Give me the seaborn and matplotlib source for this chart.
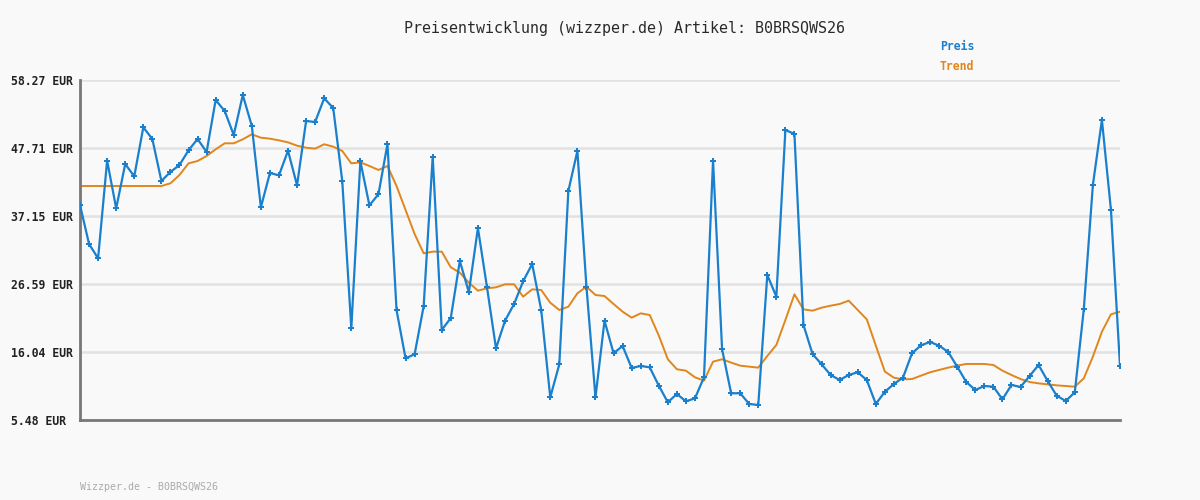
import numpy as np
import pandas as pd
import matplotlib
matplotlib.use("Agg")
import matplotlib.pyplot as plt
import seaborn as sns

# --- DATA ---
preis = [
    38.86, 32.81, 30.58, 45.75, 38.34, 45.23, 43.31, 50.92, 49.11, 42.59,
    43.99, 45.07, 47.35, 49.11, 47.09, 55.16, 53.46, 49.73, 55.94, 51.13,
    38.50, 43.83, 43.47, 47.29, 41.92, 51.90, 51.75, 55.43, 53.92, 42.59,
    19.72, 45.65, 38.82, 40.52, 48.33, 22.56, 15.06, 15.68, 23.14, 46.36,
    19.45, 21.32, 30.17, 25.31, 35.29, 26.13, 16.61, 20.90, 23.49, 27.02,
    29.70, 22.56, 9.00, 14.13, 41.04, 47.25, 26.18, 9.00, 20.90, 15.84,
    16.97, 13.56, 13.87, 13.66, 10.81, 8.23, 9.52, 8.38, 8.85, 12.11,
    45.75, 16.46, 9.63, 9.63, 7.97, 7.81, 28.00, 24.63, 50.51, 49.89,
    20.23, 15.73, 14.13, 12.47, 11.69, 12.47, 12.89, 11.69, 7.97, 9.87,
    11.07, 12.05, 15.84, 17.08, 17.59, 17.02, 16.04, 13.76, 11.38, 10.14,
    10.76, 10.65, 8.69, 10.92, 10.61, 12.31, 14.02, 11.54, 9.25, 8.43,
    9.78, 22.72, 41.97, 52.06, 38.09, 13.87,
]
trend = [
    41.81, 41.81, 41.81, 41.81, 41.81, 41.81, 41.81, 41.81, 41.81, 41.81,
    42.23, 43.52, 45.33, 45.69, 46.47, 47.51, 48.44, 48.44, 49.06, 49.84,
    49.31, 49.16, 48.90, 48.59, 48.07, 47.76, 47.61, 48.29, 47.92, 47.25,
    45.33, 45.49, 44.92, 44.30, 44.92, 41.81, 38.09, 34.36, 31.36, 31.62,
    31.62, 29.19, 28.36, 26.80, 25.56, 25.93, 26.08, 26.55, 26.55, 24.63,
    25.77, 25.66, 23.69, 22.56, 23.07, 25.15, 26.18, 24.89, 24.73, 23.49,
    22.30, 21.37, 22.04, 21.78, 18.60, 14.91, 13.36, 13.14, 12.11, 11.59,
    14.54, 14.91, 14.39, 13.92, 13.76, 13.61, 15.42, 17.13, 21.01, 24.99,
    22.66, 22.45, 22.92, 23.23, 23.49, 24.01, 22.56, 21.11, 17.02, 12.99,
    12.05, 11.79, 11.84, 12.37, 12.89, 13.25, 13.61, 13.92, 14.18, 14.18,
    14.18, 14.02, 13.14, 12.47, 11.84, 11.38, 11.17, 11.01, 10.86, 10.76,
    10.65, 11.95, 15.31, 19.19, 21.89, 22.30,
]
y_ticks = [5.48, 16.04, 26.59, 37.15, 47.71, 58.27]
y_labels = [f"{v:.2f} EUR" for v in y_ticks]
title = "Preisentwicklung (wizzper.de) Artikel: B0BRSQWS26"
footer = "Wizzper.de - B0BRSQWS26"

BLUE = "#1a7fcc"
ORANGE = "#e0861c"
BG = "#f9f9f9"

df = pd.DataFrame({"idx": np.arange(len(preis)), "Preis": preis, "Trend": trend})

sns.set_style("white")
plt.rcParams["font.family"] = ["DejaVu Sans Mono"]

fig = plt.figure(figsize=(12, 5), dpi=100, facecolor=BG)
ax = fig.add_axes([80 / 1200, 80 / 500, 1040 / 1200, 340 / 500])
ax.set_facecolor(BG)

for v in y_ticks:
    ax.axhline(v, color="#e2e2e2", lw=1.8, zorder=0)

sns.lineplot(data=df, x="idx", y="Trend", ax=ax, color=ORANGE, lw=1.4, zorder=2)
sns.lineplot(data=df, x="idx", y="Preis", ax=ax, color=BLUE, lw=1.6,
             marker="P", markersize=4, markeredgewidth=0, zorder=3)

ax.set_xlim(0, len(preis) - 1)
ax.set_ylim(y_ticks[0], y_ticks[-1])
ax.set_xticks([])
ax.set_yticks(y_ticks)
ax.set_yticklabels(y_labels, fontsize=8.3, fontweight="bold", color="#222222")
ax.tick_params(axis="y", length=0, pad=50)
for lbl in ax.get_yticklabels():
    lbl.set_horizontalalignment("left")
ax.set_xlabel("")
ax.set_ylabel("")

for side in ["top", "right"]:
    ax.spines[side].set_visible(False)
for side in ["left", "bottom"]:
    ax.spines[side].set_color("#777777")
    ax.spines[side].set_linewidth(2)

fig.text(624 / 1200, 1 - 28 / 500, title, ha="center", va="center",
         fontsize=10.8, color="#2a2a2a")
fig.text(940 / 1200, 1 - 47 / 500, "Preis", ha="left", va="center",
         fontsize=8.3, fontweight="bold", color=BLUE)
fig.text(940 / 1200, 1 - 67 / 500, "Trend", ha="left", va="center",
         fontsize=8.3, fontweight="bold", color=ORANGE)
fig.text(80 / 1200, 1 - 487 / 500, footer, ha="left", va="center",
         fontsize=7.2, color="#aaaaaa")

fig.savefig("out.png", dpi=100, facecolor=BG)
